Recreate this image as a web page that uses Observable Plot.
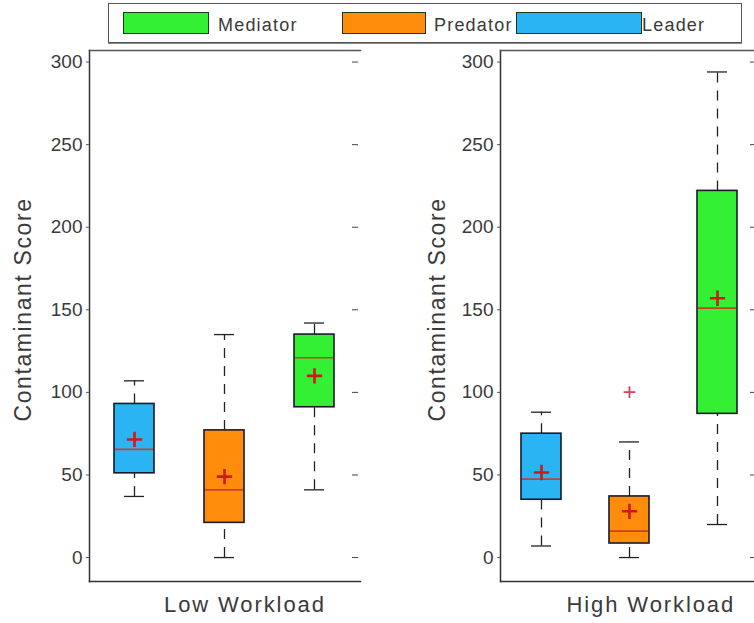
<!DOCTYPE html>
<html>
<head>
<meta charset="utf-8">
<script src="https://cdn.jsdelivr.net/npm/d3@7"></script>
<script src="https://cdn.jsdelivr.net/npm/@observablehq/plot@0.6"></script>
<style>
  html, body { margin: 0; padding: 0; background: #fff; }
  #chart { position: relative; width: 754px; height: 623px; overflow: hidden; background: #fff;
           font-family: "Liberation Sans", Arial, sans-serif; color: #333; }
  .panel { position: absolute; top: 0; }
  .lbl { position: absolute; color: #3a3a3a; white-space: nowrap; }
  #legend { position: absolute; left: 108px; top: 3px; width: 632px; height: 38px;
            border: 1.5px solid #555; box-shadow: 0 1px 0 #888; background: #fff; }
  .sw { position: absolute; top: 8px; height: 20px; border: 1.5px solid #1a3a1a; }
  .lt { position: absolute; top: 11px; font-size: 18px; letter-spacing: 1.2px; color: #3a3a3a; }
</style>
</head>
<body>
<div id="chart"></div>
<script>
// ---- data ----
const roles = ["Leader", "Predator", "Mediator"];
const workloads = ["Low Workload", "High Workload"];
const roleColors = ["#2bb4f4", "#ff8c0a", "#33f033"];
const legendOrder = ["Mediator", "Predator", "Leader"];

// Low workload summary stats (Leader, Predator, Mediator)
const lowMin    = [37, 0, 41];
const lowQ1     = [51, 21, 91];
const lowMedian = [65.5, 41, 121];
const lowQ3     = [93, 77, 135];
const lowMax    = [107, 135, 142];
const lowMean   = [71.5, 49, 110];
const lowOutliers = [];

// High workload summary stats
const highMin    = [7, 0, 20];
const highQ1     = [35, 8.5, 87];
const highMedian = [47.5, 16, 151];
const highQ3     = [75, 37, 222];
const highMax    = [88, 70, 294];
const highMean   = [51.5, 28, 157];
const highOutliers = [{role: "Predator", value: 100}];

const yTicks = [0, 50, 100, 150, 200, 250, 300];
const yDomain = [-14.5, 307];
const yLabel = "Contaminant Score";

function rows(mins, q1s, meds, q3s, maxs, means) {
  return roles.map((r, i) => ({role: r, min: mins[i], q1: q1s[i], median: meds[i], q3: q3s[i], max: maxs[i], mean: means[i]}));
}

function panel(data, outliers, opts) {
  return Plot.plot({
    width: 377,
    height: 623,
    marginLeft: 89,
    marginRight: opts.marginRight,
    marginTop: 50,
    marginBottom: 42,
    style: {fontFamily: "Liberation Sans, Arial, sans-serif", fontSize: "19px", color: "#3a3a3a", background: "transparent", overflow: "visible"},
    x: {domain: roles, paddingInner: 0.55, paddingOuter: opts.paddingOuter, axis: null},
    y: {domain: yDomain, axis: null},
    color: {domain: roles, range: roleColors},
    marks: [
      Plot.frame({anchor: "left", stroke: "#333", strokeWidth: 1.5}),
      Plot.frame({anchor: "bottom", stroke: "#333", strokeWidth: 1.5}),
      Plot.frame({anchor: "top", stroke: "#555", strokeWidth: 1.5}),
      Plot.axisY({anchor: "left", ticks: yTicks, tickSize: 3, tickPadding: 4, label: null, fill: "#3a3a3a", stroke: "#555"}),
      Plot.axisY({anchor: "right", ticks: yTicks, tickSize: -6, dx: -3, tickFormat: () => "", label: null, stroke: "#444"}),
      // whiskers
      Plot.ruleX(data, {x: "role", y1: "q3", y2: "max", stroke: "#222", strokeWidth: 1.3, strokeDasharray: "10,8"}),
      Plot.ruleX(data, {x: "role", y1: "min", y2: "q1", stroke: "#222", strokeWidth: 1.3, strokeDasharray: "10,8"}),
      Plot.tickY(data, {x: "role", y: "max", stroke: "#222", strokeWidth: 1.3, insetLeft: 10, insetRight: 10}),
      Plot.tickY(data, {x: "role", y: "min", stroke: "#222", strokeWidth: 1.3, insetLeft: 10, insetRight: 10}),
      // boxes
      Plot.barY(data, {x: "role", y1: "q1", y2: "q3", fill: "role", stroke: "#1a1a2a", strokeWidth: 1.6}),
      Plot.tickY(data, {x: "role", y: "median", stroke: "#c8402a", strokeWidth: 1.6, insetLeft: 1, insetRight: 1}),
      // means
      Plot.dot(data, {x: "role", y: "mean", symbol: "plus", r: 5, fill: "#e02020", stroke: "#d01818", strokeWidth: 2.6}),
      // outliers
      Plot.text(outliers, {x: "role", y: "value", text: () => "+", fill: "#e04060", fontSize: 24, fontWeight: "normal"})
    ]
  });
}

const chart = document.getElementById("chart");

const left = panel(rows(lowMin, lowQ1, lowMedian, lowQ3, lowMax, lowMean), lowOutliers, {marginRight: 17, paddingOuter: 0.272});
left.classList.add("panel");
left.style.left = "0px";
chart.appendChild(left);

const right = panel(rows(highMin, highQ1, highMedian, highQ3, highMax, highMean), highOutliers, {marginRight: 30, paddingOuter: 0.235});
right.classList.add("panel");
right.style.left = "411px";
chart.appendChild(right);

// axis titles
function addLabel(text, x, y, rotate, size, spacing) {
  const d = document.createElement("div");
  d.className = "lbl";
  d.style.fontSize = size + "px";
  d.style.letterSpacing = spacing + "px";
  d.textContent = text;
  chart.appendChild(d);
  const w = d.offsetWidth, h = d.offsetHeight;
  d.style.left = (x - w / 2) + "px";
  d.style.top = (y - h / 2) + "px";
  if (rotate) d.style.transform = "rotate(-90deg)";
}
addLabel(yLabel, 23, 309, true, 23, 1.6);
addLabel(yLabel, 437, 309, true, 23, 1.6);
addLabel(workloads[0], 245, 605, false, 22, 1.9);
addLabel(workloads[1], 651, 605, false, 22, 1.9);

// legend
const legend = document.createElement("div");
legend.id = "legend";
chart.appendChild(legend);
const swatchPos = [[14, 84], [233, 82], [407, 124]];
const textPos = [109, 325, 533];
legendOrder.forEach((name, i) => {
  const sw = document.createElement("div");
  sw.className = "sw";
  sw.style.left = swatchPos[i][0] + "px";
  sw.style.width = swatchPos[i][1] + "px";
  sw.style.background = roleColors[roles.indexOf(name)];
  legend.appendChild(sw);
  const t = document.createElement("div");
  t.className = "lt";
  t.style.left = textPos[i] + "px";
  t.textContent = name;
  legend.appendChild(t);
});
</script>
</body>
</html>
